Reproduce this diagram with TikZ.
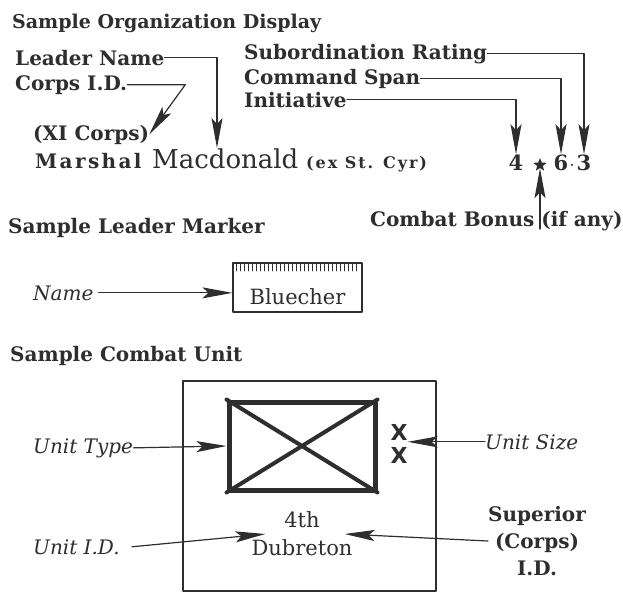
\documentclass[tikz,border=0pt]{standalone}
\usepackage{fontspec}
\setmainfont{DejaVu Serif}
\newfontfamily\xxfont{DejaVu Sans}
\usetikzlibrary{arrows.meta, positioning, shapes.geometric}
\definecolor{ink}{HTML}{2E2E2E}

\begin{document}
\begin{tikzpicture}[x=1pt, y=-1pt, line join=round, line cap=round]
        \tikzset{hd/.style={font=\fontsize{20}{22}\selectfont\bfseries, anchor=base west, inner sep=0pt, text=ink}}
        \tikzset{lbl/.style={font=\fontsize{20}{22}\selectfont\bfseries, anchor=base west, inner sep=0pt, text=ink}}
        \tikzset{itl/.style={font=\fontsize{20}{22}\selectfont\itshape, anchor=base west, inner sep=0pt, text=ink}}
        \tikzset{num/.style={font=\fontsize{21}{23}\selectfont\bfseries, anchor=base, inner sep=0pt, text=ink}}
        \tikzset{arr/.style={-{Stealth[length=30pt, width=11pt, inset=6pt]}, ink, line width=1.2pt}}
        \useasboundingbox (0, 0) rectangle (623, 595);
        % organization display
        \node[hd, font=\fontsize{19}{21}\selectfont\bfseries] (orgtitle) at (12, 28) {Sample Organization Display};
        \node[lbl] (ldr) at (15, 65) {Leader Name};
        \node[lbl] (cid) at (15, 90) {Corps I.D.};
        \node[lbl] (subr) at (244, 59) {Subordination Rating};
        \node[lbl] (cspan) at (244, 84) {Command Span};
        \node[lbl] (init) at (244, 107) {Initiative};
        \node[lbl] (xic) at (33, 140) {(XI Corps)};
        \node[lbl, font=\fontsize{20}{22}\selectfont\bfseries\addfontfeatures{LetterSpace=12}] (marsh) at (35, 168) {Marshal};
        \node[lbl, font=\fontsize{26}{28}\selectfont] (mac) at (152, 168) {Macdonald};
        \node[lbl, font=\fontsize{16}{18}\selectfont\bfseries\addfontfeatures{LetterSpace=12}] (exsc) at (306, 168) {(ex St. Cyr)};
        \node[num] (n4) at (516, 170) {4};
        \node[star, star points=5, star point ratio=2.3, fill=ink, minimum size=14pt, inner sep=0pt] (bstar) at (540, 165) {};
        \node[num] (n6) at (561, 170) {6};
        \node[num] (ndot) at (572, 170) {$\cdot$};
        \node[num] (n3) at (584, 170) {3};
        \node[lbl] (bonus) at (370, 226) {Combat Bonus (if any)};
        \draw[arr] (ldr.east) -| ([xshift=65pt]mac.north west);
        \draw[arr] (cid.east) -- ++(58, 0) -- (xic.east);
        \draw[arr] (subr.east) -| (n3.north);
        \draw[arr] (cspan.east) -| (n6.north);
        \draw[arr] (init.east) -| (n4.north);
        \draw[arr] ([yshift=-3pt]bonus.base -| bstar.south) -- (bstar.south);
        % leader marker
        \node[hd] (ldrtitle) at (8, 233) {Sample Leader Marker};
        \node[draw=ink, line width=1.2pt, minimum width=129pt, minimum height=49pt, inner sep=0pt] (ldrbox) at (297.5, 287.5) {};
        \foreach \hx in {236, 240, ..., 358} {
            \draw[ink, line width=0.8pt] (\hx, 264) -- (\hx, 271);
        }
        \node[lbl, font=\fontsize{21}{23}\selectfont, anchor=base] (blu) at (ldrbox.center |- 0, 304) {Bluecher};
        \node[itl] (lname) at (33, 300) {Name};
        \draw[arr] ([xshift=5pt]lname.east) -- (lname.east -| ldrbox.west);
        % combat unit
        \node[hd] (unittitle) at (10, 361) {Sample Combat Unit};
        \node[draw=ink, line width=1.4pt, minimum width=253pt, minimum height=210pt, inner sep=0pt] (ucnt) at (309.5, 486) {};
        \node[draw=ink, line width=5pt, minimum width=146pt, minimum height=88pt, inner sep=0pt] (utyp) at (302, 446) {};
        \draw[ink, line width=4pt] (utyp.north west) -- (utyp.south east)
                                   (utyp.south west) -- (utyp.north east);
        \node[font=\fontsize{22}{24}\selectfont\xxfont\bfseries, text=ink, inner sep=0pt] (xa) at (399, 432) {X};
        \node[font=\fontsize{22}{24}\selectfont\xxfont\bfseries, text=ink, inner sep=0pt] (xb) at (399, 455) {X};
        \node[font=\fontsize{21}{28}\selectfont, text=ink, align=center, inner sep=0pt] (uname) at (302, 534) {4th\\Dubreton};
        \node[font=\fontsize{20}{27}\selectfont\bfseries, text=ink, align=center, inner sep=0pt] (supid) at (537, 541) {Superior\\(Corps)\\I.D.};
        \node[itl] (utype) at (33, 453) {Unit Type};
        \node[itl] (uid) at (33, 554) {Unit I.D.};
        \node[itl] (usize) at (485, 449) {Unit Size};
        \draw[arr] (utype.east) -- (utyp.west);
        \draw[arr] (usize.west) -- (usize.west -| xa.east);
        \draw[arr] ([xshift=12pt]uid.east) -- ([xshift=14pt]uname.west);
        \draw[arr] (supid.west) -- ([xshift=-8pt]uname.east);
\end{tikzpicture}
\end{document}
